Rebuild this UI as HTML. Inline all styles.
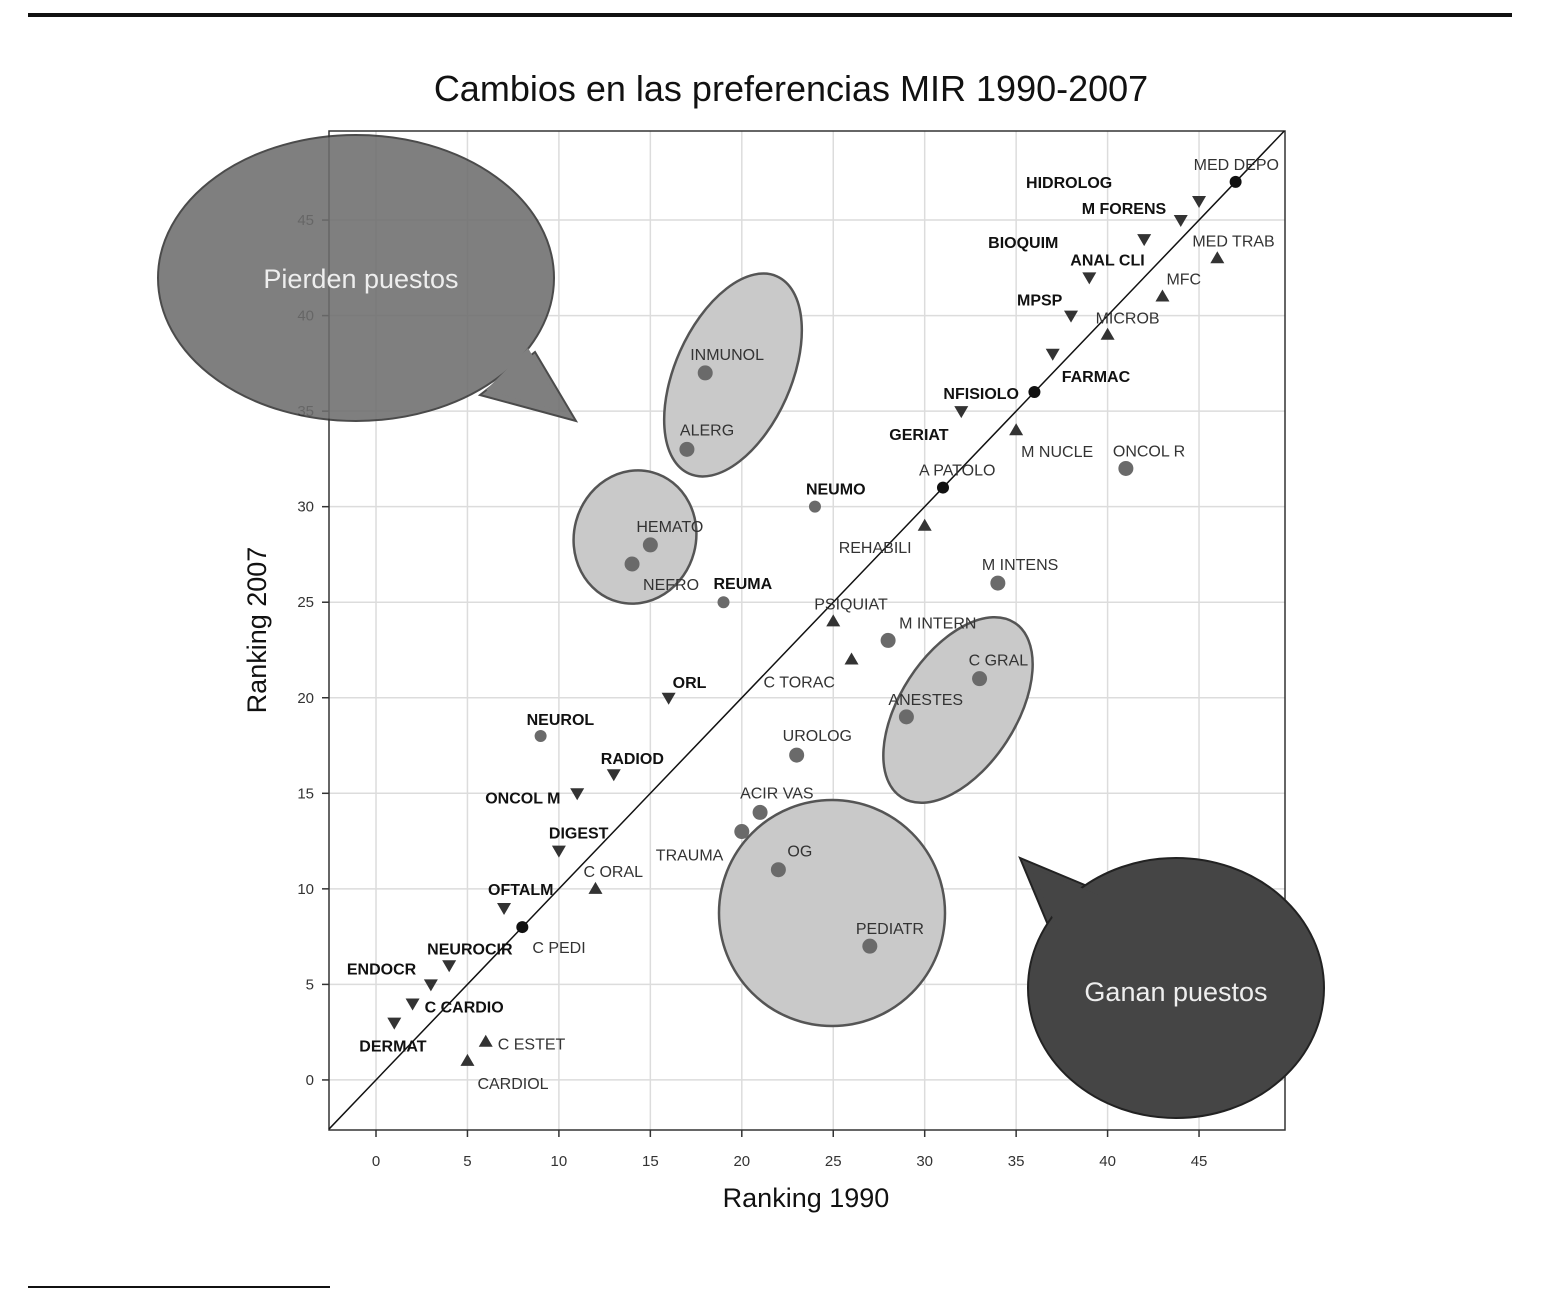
<!DOCTYPE html>
<html><head><meta charset="utf-8"><style>
html,body{margin:0;padding:0;background:#fff;}
svg{display:block;}
text{font-family:"Liberation Sans",sans-serif;}
</style></head><body>
<svg id="chart" width="1541" height="1304" viewBox="0 0 1541 1304">
<defs><clipPath id="plotclip"><rect x="329" y="131" width="956" height="999"/></clipPath></defs>
<rect x="28" y="13" width="1484" height="4" fill="#111"/>
<rect x="28" y="1286" width="302" height="2" fill="#111"/>
<text x="791" y="101" font-size="36" text-anchor="middle" fill="#111">Cambios en las preferencias MIR 1990-2007</text>
<text x="806" y="1207" font-size="27" text-anchor="middle" fill="#111">Ranking 1990</text>
<text x="0" y="0" font-size="27" text-anchor="middle" fill="#111" transform="translate(266,630) rotate(-90)">Ranking 2007</text>
<g id="grid"></g>
<g id="shapes"></g>
<g id="marks" clip-path="url(#plotclip)"></g>
<g id="bubbles"></g>
</svg>
<script>
const names=["MED DEPO","HIDROLOG","M FORENS","BIOQUIM","MED TRAB","ANAL CLI","MFC","MPSP","MICROB","FARMAC","NFISIOLO","GERIAT","M NUCLE","ONCOL R","A PATOLO","NEUMO","REHABILI","M INTENS","INMUNOL","ALERG","HEMATO","NEFRO","REUMA","PSIQUIAT","M INTERN","C TORAC","C GRAL","ANESTES","ORL","NEUROL","UROLOG","RADIOD","ONCOL M","ACIR VAS","TRAUMA","DIGEST","OG","C ORAL","OFTALM","C PEDI","PEDIATR","NEUROCIR","ENDOCR","C CARDIO","DERMAT","C ESTET","CARDIOL"];
const rank1990=[47,45,44,42,46,39,43,38,40,37,36,32,35,41,31,24,30,34,18,17,15,14,19,25,28,26,33,29,16,9,23,13,11,21,20,10,22,12,7,8,27,4,3,2,1,6,5];
const rank2007=[47,46,45,44,43,42,41,40,39,38,36,35,34,32,31,30,29,26,37,33,28,27,25,24,23,22,21,19,20,18,17,16,15,14,13,12,11,10,9,8,7,6,5,4,3,2,1];
const markerType=["k","d","d","d","u","d","u","d","u","d","k","d","u","c","k","s","u","c","c","c","c","c","s","u","c","u","c","c","d","s","c","d","d","c","c","d","c","u","d","k","c","d","d","d","d","u","u"];
const boldLabel=[0,1,1,1,0,1,0,1,0,1,1,1,0,0,0,1,0,0,0,0,0,0,1,0,0,0,0,0,1,1,0,1,1,0,0,1,0,0,1,0,0,1,1,1,1,0,0];
const labelDx=[-42,-173,-99,-156,-25,-19,4,-54,-12,9,-91,-72,5,-13,-24,-9,-86,-16,-15,-7,-14,11,-10,-19,11,-88,-11,-18,4,-14,-14,-13,-92,-20,-86,-10,9,-12,-16,10,-14,-22,-84,12,-35,12,10];
const labelDy=[-18,-19,-12,3,-18,-18,-18,-16,-17,22,1,23,21,-18,-18,-18,21,-19,-19,-20,-19,20,-19,-18,-18,22,-19,-18,-16,-17,-20,-16,4,-20,23,-18,-19,-18,-19,20,-18,-17,-16,3,23,2,22];
const xTicks=[0,5,10,15,20,25,30,35,40,45];
const yTicks=[0,5,10,15,20,25,30,35,40,45];
const X0=329,X1=1285,Y0=1130,Y1=131, xmin=-2.57,xmax=49.7,ymin=-2.62,ymax=49.66;
const sx=v=>X0+(v-xmin)/(xmax-xmin)*(X1-X0);
const sy=v=>Y0-(v-ymin)/(ymax-ymin)*(Y0-Y1);
const NS="http://www.w3.org/2000/svg";
function mk(t,a,p){const e=document.createElementNS(NS,t);for(const k in a)e.setAttribute(k,a[k]);p.appendChild(e);return e;}
const grid=document.getElementById('grid');
xTicks.forEach(t=>{
 const l=mk('line',{x1:sx(t),x2:sx(t),y1:Y1,y2:Y0,stroke:'#dcdcdc','stroke-width':1.5},grid);
 
 
 const tk=mk('line',{x1:sx(t),x2:sx(t),y1:Y0,y2:Y0+7,stroke:'#333','stroke-width':1.5},grid);
 
 
 const tx=mk('text',{x:sx(t),y:Y0+36,'font-size':15,'text-anchor':'middle',fill:'#333'},grid);tx.textContent=t;
 
 
});
yTicks.forEach(t=>{
 const l=mk('line',{x1:X0,x2:X1,y1:sy(t),y2:sy(t),stroke:'#dcdcdc','stroke-width':1.5},grid);
 
 
 const tk=mk('line',{x1:X0-7,x2:X0,y1:sy(t),y2:sy(t),stroke:'#333','stroke-width':1.5},grid);
 
 
 const tx=mk('text',{x:X0-15,y:sy(t)+5,'font-size':15,'text-anchor':'end',fill:'#333'},grid);tx.textContent=t;
 
 
});
const frame=mk('rect',{x:X0,y:Y1,width:X1-X0,height:Y0-Y1,fill:'none',stroke:'#333','stroke-width':1.5},grid);


const sh=document.getElementById('shapes');
const ells=[[733,375,58,108,24,'cluster-inmunol-alerg'],[635,537,61,67,15,'cluster-hemato-nefro'],[958,710,58,104,33,'cluster-cgral-anestes'],[832,913,113,113,0,'cluster-og-pediatr']];
ells.forEach(e=>{const el=mk('ellipse',{cx:e[0],cy:e[1],rx:e[2],ry:e[3],transform:`rotate(${e[4]} ${e[0]} ${e[1]})`,fill:'#c9c9c9',stroke:'#555','stroke-width':2.5},sh);
 
 });
const dl=mk('line',{x1:sx(Math.max(xmin,ymin)),y1:sy(Math.max(xmin,ymin)),x2:sx(Math.min(xmax,ymax)),y2:sy(Math.min(xmax,ymax)),stroke:'#111','stroke-width':1.5},sh);


const m=document.getElementById('marks');
names.forEach((n,i)=>{
 const x=sx(rank1990[i]),y=sy(rank2007[i]),t=markerType[i];let el;
 if(t==='k')el=mk('circle',{cx:x,cy:y,r:6,fill:'#111'},m);
 else if(t==='c')el=mk('circle',{cx:x,cy:y,r:7.5,fill:'#6a6a6a'},m);
 else if(t==='s')el=mk('circle',{cx:x,cy:y,r:6,fill:'#6a6a6a'},m);
 else if(t==='u')el=mk('polygon',{points:`${x},${y-7} ${x+7},${y+5} ${x-7},${y+5}`,fill:'#333'},m);
 else el=mk('polygon',{points:`${x},${y+7} ${x+7},${y-5} ${x-7},${y-5}`,fill:'#333'},m);
 
 
 const tx=mk('text',{x:x+labelDx[i],y:y+labelDy[i]+6,'font-size':16,fill:boldLabel[i]?'#111':'#333','font-weight':boldLabel[i]?'bold':'normal'},m);
 tx.textContent=n;
 
 
});
const b=document.getElementById('bubbles');
const g1=mk('g',{opacity:0.88},b);
const p1=mk('path',{d:'M 535 352 L 576 421 L 480 395 Z',fill:'#6e6e6e',stroke:'#333','stroke-width':2},g1);


const e1=mk('ellipse',{cx:356,cy:278,rx:198,ry:143,fill:'#6e6e6e',stroke:'#333','stroke-width':2},g1);


mk('path',{d:'M 528 348 L 566 412 L 486 390 Z',fill:'#6e6e6e'},g1);
const t1=mk('text',{x:361,y:288,'font-size':27,'text-anchor':'middle',fill:'#eee'},b);t1.textContent='Pierden puestos';


const p2=mk('path',{d:'M 1092 888 L 1020 858 L 1048 925 Z',fill:'#454545',stroke:'#222','stroke-width':2},b);


const e2=mk('ellipse',{cx:1176,cy:988,rx:148,ry:130,fill:'#454545',stroke:'#222','stroke-width':2},b);


mk('path',{d:'M 1098 895 L 1030 866 L 1058 930 Z',fill:'#454545'},b);
const t2=mk('text',{x:1176,y:1001,'font-size':27,'text-anchor':'middle',fill:'#eee'},b);t2.textContent='Ganan puestos';


</script>
</body></html>
